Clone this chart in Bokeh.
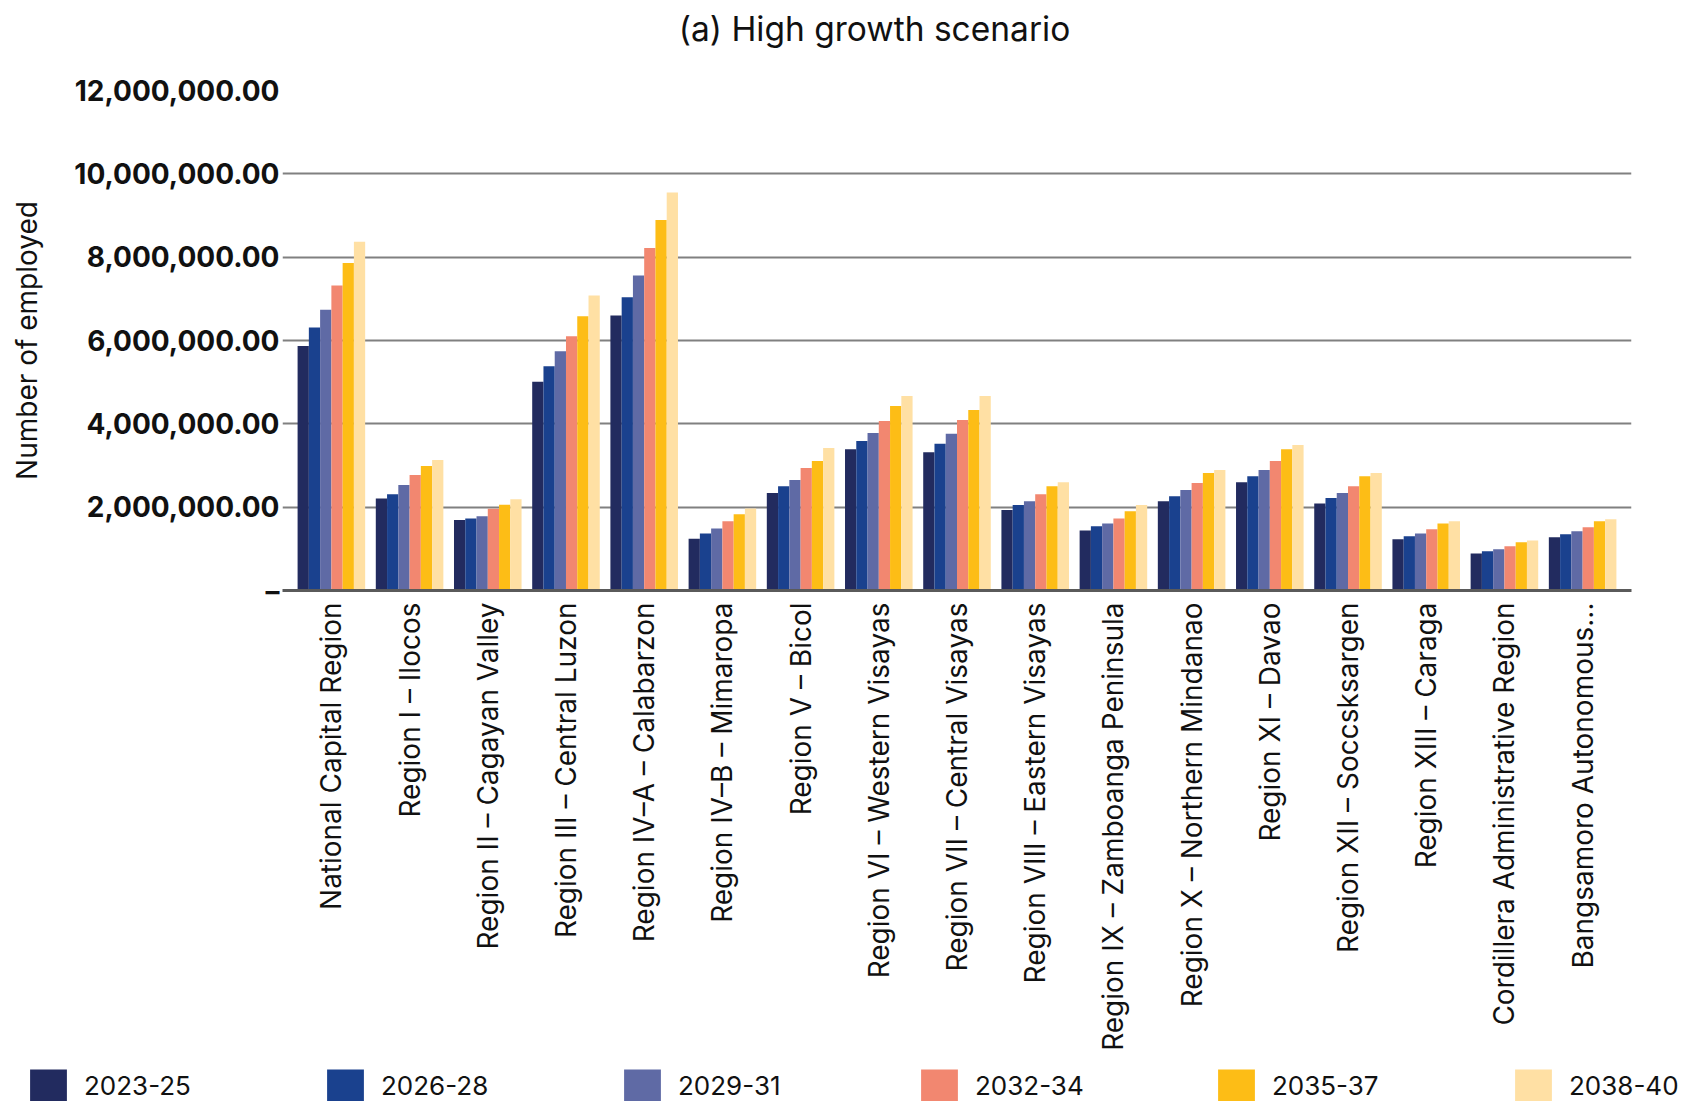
import math
from bokeh.plotting import figure
from bokeh.layouts import column
from bokeh.models import (ColumnDataSource, FactorRange, Range1d, FixedTicker,
                          Legend, LegendItem, Label)
from bokeh.transform import dodge
from bokeh.embed import file_html
from bokeh.resources import INLINE

regions = [
    "National Capital Region",
    "Region I – Ilocos",
    "Region II – Cagayan Valley",
    "Region III – Central Luzon",
    "Region IV–A – Calabarzon",
    "Region IV–B – Mimaropa",
    "Region V – Bicol",
    "Region VI – Western Visayas",
    "Region VII – Central Visayas",
    "Region VIII – Eastern Visayas",
    "Region IX – Zamboanga Peninsula",
    "Region X – Northern Mindanao",
    "Region XI – Davao",
    "Region XII – Soccsksargen",
    "Region XIII – Caraga",
    "Cordillera Administrative Region",
    "Bangsamoro Autonomous...",
]

periods = ["2023-25", "2026-28", "2029-31", "2032-34", "2035-37", "2038-40"]

s2023_25 = [5870000, 2210000, 1690000, 5010000, 6600000, 1240000, 2340000, 3390000, 3320000,
            1930000, 1440000, 2140000, 2600000, 2090000, 1230000, 890000, 1280000]
s2026_28 = [6310000, 2310000, 1730000, 5380000, 7040000, 1370000, 2500000, 3590000, 3520000,
            2050000, 1540000, 2260000, 2740000, 2220000, 1300000, 940000, 1350000]
s2029_31 = [6740000, 2530000, 1780000, 5740000, 7560000, 1490000, 2650000, 3780000, 3760000,
            2140000, 1610000, 2410000, 2890000, 2340000, 1370000, 990000, 1420000]
s2032_34 = [7320000, 2770000, 1960000, 6100000, 8220000, 1660000, 2940000, 4070000, 4090000,
            2310000, 1730000, 2580000, 3110000, 2500000, 1470000, 1060000, 1520000]
s2035_37 = [7860000, 2990000, 2060000, 6580000, 8890000, 1830000, 3110000, 4430000, 4330000,
            2500000, 1900000, 2820000, 3390000, 2740000, 1610000, 1160000, 1660000]
s2038_40 = [8370000, 3130000, 2190000, 7080000, 9550000, 1970000, 3420000, 4670000, 4670000,
            2600000, 2050000, 2890000, 3490000, 2820000, 1660000, 1200000, 1710000]

y_ticks = [0, 2000000, 4000000, 6000000, 8000000, 10000000, 12000000]

title_text = "(a) High growth scenario"
y_title = "Number of employed"

colors = ["#222B5F", "#1A418E", "#5F6AA5", "#F28770", "#FDBD16", "#FFE0A4"]

series = [s2023_25, s2026_28, s2029_31, s2032_34, s2035_37, s2038_40]
keys = ["p0", "p1", "p2", "p3", "p4", "p5"]
data = {"region": regions}
for k, s in zip(keys, series):
    data[k] = s
source = ColumnDataSource(data)

FONT = "Inter"
W = 1668

x_range = FactorRange(factors=regions, range_padding=0.125, range_padding_units="absolute")


def strip(height, xr, width=W):
    f = figure(width=width, height=height, x_range=xr, y_range=Range1d(0, 1),
               output_backend="svg", toolbar_location=None,
               x_axis_type=None, y_axis_type=None,
               min_border_left=0, min_border_right=0, min_border_top=0, min_border_bottom=0)
    f.outline_line_color = None
    f.xgrid.grid_line_color = None
    f.ygrid.grid_line_color = None
    if "frame_align" in f.properties():
        f.frame_align = False
    return f


# ---- title strip
tp = strip(50, Range1d(0, 1))
tp.add_layout(Label(x=874, y=22, x_units="screen", y_units="screen",
                    text=title_text, text_align="center", text_baseline="middle",
                    text_font=FONT, text_font_size="33.5px", text_color="#111111"))

# ---- main chart
p = figure(
    width=W, height=1019,
    x_range=x_range,
    y_range=Range1d(0, 12000000),
    output_backend="svg", toolbar_location=None,
    min_border_left=282, min_border_right=37, min_border_top=40, min_border_bottom=479,
)
if "frame_align" in p.properties():
    p.frame_align = False
p.outline_line_color = None
p.background_fill_color = "white"
p.border_fill_color = "white"

bw = 0.144
for i, (k, c) in enumerate(zip(keys, colors)):
    p.vbar(x=dodge("region", (i - 2.5) * bw, range=x_range), top=k, width=bw,
           source=source, fill_color=c, line_color=None)

p.xgrid.grid_line_color = None
p.ygrid.grid_line_color = "#808080"
p.ygrid.grid_line_width = 2
p.ygrid.ticker = FixedTicker(ticks=y_ticks)

p.yaxis.ticker = FixedTicker(ticks=y_ticks)
overrides = {}
for t in y_ticks:
    overrides[t] = "–" if t == 0 else f"{t:,.2f}"
p.yaxis.major_label_overrides = overrides
p.yaxis.axis_line_color = None
p.yaxis.major_tick_line_color = None
p.yaxis.minor_tick_line_color = None
p.yaxis.major_tick_in = 0
p.yaxis.major_tick_out = 0
p.yaxis.major_label_standoff = 3
p.yaxis.major_label_text_font = FONT
p.yaxis.major_label_text_font_style = "bold"
p.yaxis.major_label_text_font_size = "28px"
p.yaxis.major_label_text_color = "#111111"
p.yaxis.axis_label = y_title
p.yaxis.axis_label_standoff = 27
p.yaxis.axis_label_text_font = FONT
p.yaxis.axis_label_text_font_style = "normal"
p.yaxis.axis_label_text_font_size = "28px"
p.yaxis.axis_label_text_color = "#111111"

p.xaxis.major_label_orientation = math.pi / 2
p.xaxis.axis_line_color = "#5a5a5a"
p.xaxis.axis_line_width = 3
p.xaxis.major_tick_line_color = None
p.xaxis.major_tick_out = 0
p.xaxis.major_label_standoff = 12
p.xaxis.major_label_text_font = FONT
p.xaxis.major_label_text_font_size = "28px"
p.xaxis.major_label_text_color = "#111111"

# ---- legend strip (its renderers share the data but stay hidden)
lp = strip(32, x_range, width=1684)
items = []
for i, (k, c, lab) in enumerate(zip(keys, colors, periods)):
    r = lp.vbar(x=dodge("region", (i - 2.5) * bw, range=x_range), top=k, width=bw,
                source=source, fill_color=c, line_color=None, visible=False)
    items.append(LegendItem(label=lab, renderers=[r]))

legend = Legend(items=items, orientation="horizontal", location=(25, -4),
                glyph_width=46, glyph_height=40, label_standoff=13,
                label_width=238, spacing=0, padding=0, margin=0,
                border_line_color=None, background_fill_alpha=0,
                inactive_fill_alpha=0,
                label_text_font=FONT, label_text_font_size="26px",
                label_text_color="#111111")
lp.add_layout(legend, "center")

layout = column(tp, p, lp, spacing=0)
open("out.html", "w").write(file_html(layout, INLINE))
